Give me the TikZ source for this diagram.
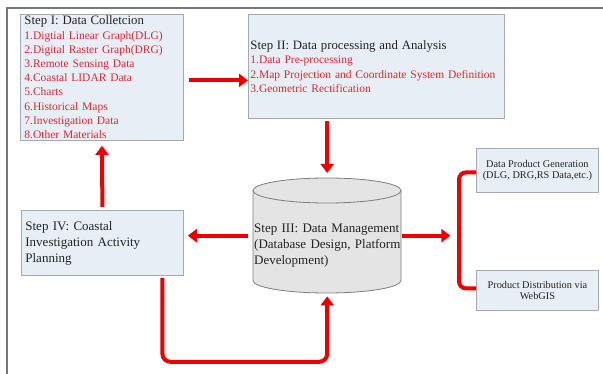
\documentclass[tikz,border=0pt]{standalone}
\usepackage{fontspec}
\setmainfont{Liberation Serif}
\usetikzlibrary{arrows.meta}
\definecolor{boxfill}{RGB}{232,238,246}
\definecolor{boxline}{RGB}{165,170,178}
\definecolor{cylfill}{RGB}{228,228,228}
\definecolor{cylline}{RGB}{125,125,125}
\definecolor{arrred}{RGB}{238,0,0}
\definecolor{txtred}{RGB}{222,40,48}
\definecolor{txtdark}{RGB}{35,35,35}
\definecolor{framegray}{RGB}{120,120,120}
\begin{document}
\begin{tikzpicture}[x=1pt,y=-1pt,
  stepbox/.style={draw=boxline, fill=boxfill, line width=0.8pt, anchor=north west,
    inner ysep=0pt, align=left, text=txtdark},
  prodbox/.style={draw=boxline, fill=boxfill, line width=0.8pt, anchor=north west,
    inner sep=0pt, align=center, text=txtdark, minimum width=122pt,
    font=\fontsize{10.3}{10.5}\selectfont},
  flow/.style={draw=arrred, line width=4pt, -{Triangle[width=13pt,length=9pt]}},
  bracketline/.style={draw=arrred, line width=4pt, rounded corners=7pt}]
\useasboundingbox (0,0) rectangle (603,374);
\fill[white] (0,0) rectangle (603,374);
% frame
\draw[framegray, line width=1.6pt] (7,374) -- (7,8) -- (603,8);

% Step I
\node[stepbox, inner xsep=4pt, text width=155pt, minimum width=163pt, minimum height=126pt,
  font=\fontsize{11.5}{14.2}\selectfont] (s1) at (20,14)
  {{\fontsize{12.8}{14.2}\selectfont Step I: Data Colletcion}\\
   \textcolor{txtred}{1.Digtial Linear Graph(DLG)}\\
   \textcolor{txtred}{2.Digital Raster Graph(DRG)}\\
   \textcolor{txtred}{3.Remote Sensing Data}\\
   \textcolor{txtred}{4.Coastal LIDAR Data}\\
   \textcolor{txtred}{5.Charts}\\
   \textcolor{txtred}{6.Historical Maps}\\
   \textcolor{txtred}{7.Investigation Data}\\
   \textcolor{txtred}{8.Other Materials}};

% Step II
\node[stepbox, inner xsep=2pt, text width=252pt, minimum width=256pt, minimum height=104pt,
  font=\fontsize{11.5}{14.5}\selectfont] (s2) at (248,14)
  {{\fontsize{12.8}{14.5}\selectfont Step II: Data processing and Analysis}\\
   \textcolor{txtred}{1.Data Pre-processing}\\
   \textcolor{txtred}{2.Map Projection and Coordinate System Definition}\\
   \textcolor{txtred}{3.Geometric Rectification}};

% Step IV
\node[stepbox, inner xsep=4pt, text width=154pt, minimum width=162pt, minimum height=65pt,
  font=\fontsize{13}{16}\selectfont] (s4) at (21,210)
  {Step IV: Coastal\\Investigation Activity\\Planning};

% Step III cylinder
\node[anchor=north west, minimum width=148pt, minimum height=115pt, inner sep=0pt] (cyl) at (253,178) {};
\draw[cylline, fill=cylfill, line width=0.8pt]
  (253,190.5) -- (253,280.5) arc[start angle=180, end angle=360, x radius=74, y radius=-12.5]
  -- (401,190.5);
\draw[cylline, fill=cylfill, line width=0.8pt] (327,190.5) ellipse[x radius=74, y radius=12.5];
\node[anchor=west, inner sep=0pt, align=left, text=txtdark, text width=150pt,
  font=\fontsize{13}{16}\selectfont] (cyltext) at (254,246)
  {Step III: Data Management\\(Database Design, Platform\\Development)};

% product boxes
\node[prodbox, minimum height=44pt] (pA) at (476,148)
  {Data Product Generation\\(DLG, DRG,RS Data,etc.)};
\node[prodbox, minimum height=40pt] (pB) at (476,270)
  {Product Distribution via\\WebGIS};

% connectors
\draw[flow] ([xshift=5pt,yshift=-3pt]s1.east) -- ([yshift=-3pt]s1.east -| s2.west);
\draw[flow, shorten <=2pt, shorten >=5pt] (s2.south -| cyl.north) -- (cyl.north);
\draw[flow, shorten >=4pt] ([xshift=-5pt]cyl.west) -- (cyl.west -| s4.east);
\draw[flow, shorten >=5pt] ([yshift=3pt]s4.north) -- (s1.south);
\draw[flow, rounded corners=8pt] ([xshift=60pt,yshift=-2pt]s4.south) -- ++(0,84)
  -| ([yshift=-3pt]cyl.south);
\draw[flow] ([xshift=1pt]cyl.east) -- ++(48,0);
\draw[bracketline] ([yshift=-2pt]pA.west) -- ++(-17,0) |- ([yshift=2pt]pB.west);
\end{tikzpicture}
\end{document}
